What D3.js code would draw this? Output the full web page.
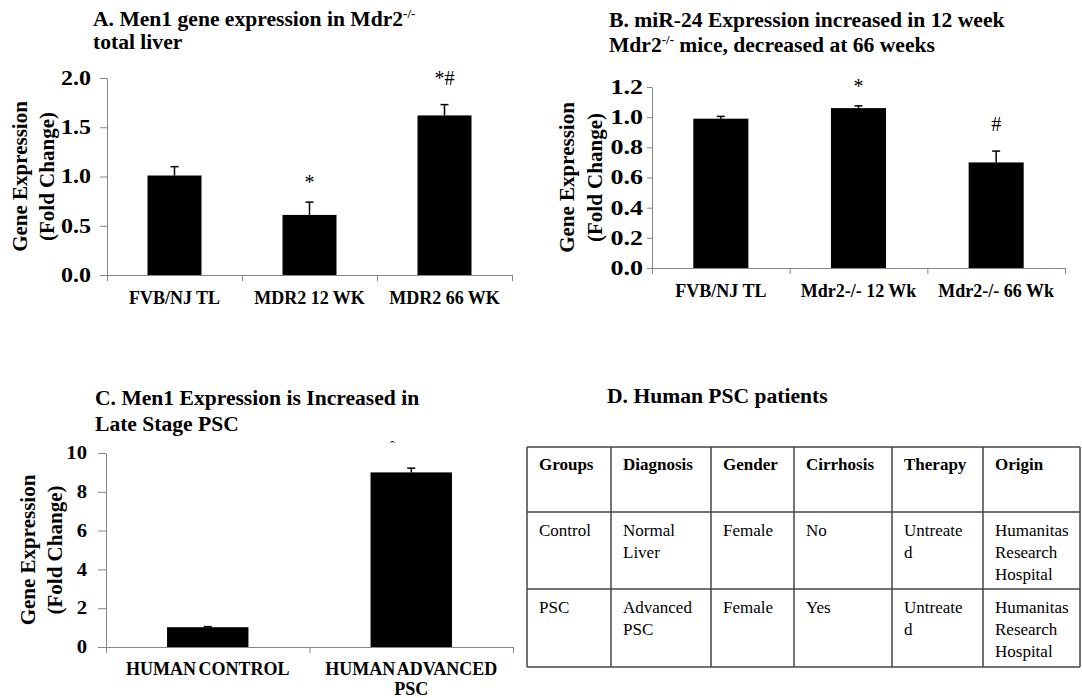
<!DOCTYPE html>
<html lang="en">
<head>
  <meta charset="UTF-8">
  <title>Men1 / miR-24 expression in Mdr2-/- mice and human PSC</title>
  <script src="https://d3js.org/d3.v7.min.js"></script>
  <style>
    body { margin: 0; padding: 0; background: #fff; }
    svg { display: block; }
    text { font-family: 'Liberation Serif', 'Times New Roman', serif; fill: #000; }
  </style>
</head>
<body>
  <div id="chart"></div>
  <script>
    const width = 1082, height = 698;
    const axisGrey = "#868686";

    // A. Men1 gene expression in Mdr2-/- total liver
    const catsA = [["FVB/NJ TL"], ["MDR2 12 WK"], ["MDR2 66 WK"]];
    const valsA = [1.01, 0.61, 1.62];
    const errsA = [0.09, 0.13, 0.11];
    const notesA = ["", "*", "*#"];
    const ticksA = [0, 0.5, 1.0, 1.5, 2.0];

    // B. miR-24 expression
    const catsB = [["FVB/NJ TL"], ["Mdr2-/- 12 Wk"], ["Mdr2-/- 66 Wk"]];
    const valsB = [0.99, 1.06, 0.70];
    const errsB = [0.015, 0.015, 0.075];
    const notesB = ["", "*", "#"];
    const ticksB = [0, 0.2, 0.4, 0.6, 0.8, 1.0, 1.2];

    // C. Men1 expression in human PSC
    const catsC = [["HUMAN CONTROL"], ["HUMAN ADVANCED", "PSC"]];
    const valsC = [1.02, 9.0];
    const errsC = [0.03, 0.22];
    const notesC = ["", "ˆ"];
    const ticksC = [0, 2, 4, 6, 8, 10];

    // D. Human PSC patients table
    const tableHead = ["Groups", "Diagnosis", "Gender", "Cirrhosis", "Therapy", "Origin"];
    const tableRows = [
      [["Control"], ["Normal", "Liver"], ["Female"], ["No"], ["Untreate", "d"], ["Humanitas", "Research", "Hospital"]],
      [["PSC"], ["Advanced", "PSC"], ["Female"], ["Yes"], ["Untreate", "d"], ["Humanitas", "Research", "Hospital"]]
    ];

    const yTitle = ["Gene Expression", "(Fold Change)"];

    const svg = d3.select("#chart").append("svg")
      .attr("width", width)
      .attr("height", height);
    svg.append("rect").attr("width", width).attr("height", height).attr("fill", "#fff");

    // text squeezed/stretched horizontally like the source image
    function stext(parent, x, y, size, sx) {
      return parent.append("text")
        .attr("transform", `translate(${x},${y}) scale(${sx},1)`)
        .attr("font-size", size);
    }

    function title(x, ys, lines) {
      lines.forEach((segs, i) => {
        const t = stext(svg, x, ys[i], 20, 1.08).attr("font-weight", "bold");
        segs.forEach(s => {
          if (s.sup) {
            t.append("tspan").attr("font-size", 12).attr("dy", -8).text(s.t);
          } else {
            t.append("tspan").attr("dy", s.after ? 8 : 0).text(s.t);
          }
        });
      });
    }

    function barPanel(cfg) {
      const n = cfg.cats.length;
      const x = d3.scaleBand()
        .domain(d3.range(n))
        .range([cfg.x0, cfg.x1])
        .paddingInner(0.6)
        .paddingOuter(0.3);
      const xb = d3.scaleLinear().domain([0, n]).range([cfg.x0, cfg.x1]);
      const y = d3.scaleLinear().domain([0, cfg.max]).range([cfg.yBot, cfg.yTop]);

      // y axis
      const ya = svg.append("g")
        .attr("transform", `translate(${cfg.x0},0)`)
        .call(d3.axisLeft(y).tickValues(cfg.ticks).tickFormat(d3.format(cfg.fmt))
          .tickSize(cfg.tickLen).tickSizeOuter(0));
      ya.select(".domain").attr("stroke", axisGrey);
      ya.selectAll(".tick line").attr("stroke", axisGrey);
      ya.selectAll(".tick text")
        .attr("font-family", "'Liberation Serif', serif")
        .attr("font-weight", "bold")
        .attr("font-size", cfg.tickFont)
        .attr("fill", "#000")
        .attr("x", -(cfg.tickLen + cfg.tickPad) / cfg.tickSx)
        .attr("transform", `scale(${cfg.tickSx},1)`);

      // x axis with ticks at category boundaries
      const xa = svg.append("g")
        .attr("transform", `translate(0,${cfg.yBot})`)
        .call(d3.axisBottom(xb).tickValues(d3.range(n + 1)).tickFormat("")
          .tickSize(6).tickSizeOuter(0));
      xa.select(".domain").attr("stroke", axisGrey);
      xa.selectAll(".tick line").attr("stroke", axisGrey);

      // bars
      svg.append("g").selectAll("rect")
        .data(cfg.vals)
        .join("rect")
        .attr("x", (d, i) => x(i))
        .attr("y", d => y(d))
        .attr("width", x.bandwidth())
        .attr("height", d => cfg.yBot - y(d))
        .attr("fill", "#000");

      // upper error bars
      const eb = svg.append("g").attr("stroke", "#000").attr("stroke-width", 1.5);
      cfg.vals.forEach((v, i) => {
        const cx = x(i) + x.bandwidth() / 2;
        eb.append("line").attr("x1", cx).attr("x2", cx)
          .attr("y1", y(v)).attr("y2", y(v + cfg.errs[i]));
        eb.append("line").attr("x1", cx - 4).attr("x2", cx + 4)
          .attr("y1", y(v + cfg.errs[i])).attr("y2", y(v + cfg.errs[i]));
      });

      // significance marks
      cfg.notes.forEach((s, i) => {
        if (!s) return;
        const cx = x(i) + x.bandwidth() / 2;
        const top = y(cfg.vals[i] + cfg.errs[i]);
        if (s === "ˆ") {
          svg.append("text").attr("x", cx - 19).attr("y", top - 17)
            .attr("font-size", 14).attr("fill", "#888").attr("text-anchor", "middle").text(s);
          return;
        }
        svg.append("text")
          .attr("x", cx)
          .attr("y", top - (s.includes("#") ? 20 : 13))
          .attr("font-size", 20)
          .attr("text-anchor", "middle")
          .text(s);
      });

      // category labels
      cfg.cats.forEach((lines, i) => {
        const cx = x(i) + x.bandwidth() / 2;
        lines.forEach((l, k) => {
          svg.append("text")
            .attr("x", cx)
            .attr("y", cfg.labelY + k * 20)
            .attr("font-size", 18)
            .attr("font-weight", "bold")
            .attr("text-anchor", "middle")
            .attr("word-spacing", cfg.wordSpacing || 0)
            .text(l);
        });
      });

      // rotated y title
      const cy = (cfg.yTop + cfg.yBot) / 2;
      yTitle.forEach((l, k) => {
        svg.append("text")
          .attr("transform", `translate(${cfg.ytX[k]},${cy}) rotate(-90)`)
          .attr("dy", "0.35em")
          .attr("font-size", 21)
          .attr("font-weight", "bold")
          .attr("text-anchor", "middle")
          .text(l);
      });
    }

    // Panel A
    title(93, [26, 49], [
      [{ t: "A. Men1 gene expression in Mdr2" }, { t: "-/-", sup: true }],
      [{ t: "total liver" }]
    ]);
    barPanel({
      cats: catsA, vals: valsA, errs: errsA, notes: notesA, ticks: ticksA,
      x0: 107, x1: 512, yTop: 78, yBot: 275, max: 2.0, fmt: ".1f",
      tickFont: 20, tickSx: 1.2, tickPad: 9, tickLen: 7,
      labelY: 304, ytX: [20, 47]
    });

    // Panel B
    title(609, [27, 52], [
      [{ t: "B. miR-24 Expression increased in 12 week" }],
      [{ t: "Mdr2" }, { t: "-/-", sup: true }, { t: " mice, decreased at 66 weeks", after: true }]
    ]);
    barPanel({
      cats: catsB, vals: valsB, errs: errsB, notes: notesB, ticks: ticksB,
      x0: 652, x1: 1065, yTop: 87, yBot: 268, max: 1.2, fmt: ".1f",
      tickFont: 20, tickSx: 1.3, tickPad: 4, tickLen: 5,
      labelY: 297, ytX: [567, 595]
    });

    // Panel C
    title(95, [405, 431], [
      [{ t: "C. Men1 Expression is Increased in" }],
      [{ t: "Late Stage PSC" }]
    ]);
    barPanel({
      cats: catsC, vals: valsC, errs: errsC, notes: notesC, ticks: ticksC,
      x0: 106, x1: 513, yTop: 453, yBot: 647, max: 10, fmt: "d",
      tickFont: 18, tickSx: 1.15, tickPad: 11, tickLen: 8,
      labelY: 675, ytX: [28, 55], wordSpacing: -2
    });

    // Panel D
    title(607, [403], [[{ t: "D. Human PSC patients" }]]);

    const colX = [527, 611, 711, 794, 892, 983, 1080];
    const rowY = [447, 512, 589, 667];
    const tg = svg.append("g");
    tg.selectAll("line.h").data(rowY).join("line")
      .attr("x1", colX[0]).attr("x2", colX[colX.length - 1])
      .attr("y1", d => d).attr("y2", d => d)
      .attr("stroke", "#444").attr("stroke-width", 1.5);
    tg.selectAll("line.v").data(colX).join("line")
      .attr("x1", d => d).attr("x2", d => d)
      .attr("y1", rowY[0]).attr("y2", rowY[rowY.length - 1])
      .attr("stroke", "#444").attr("stroke-width", 1.5);

    tableHead.forEach((h, c) => {
      tg.append("text")
        .attr("x", colX[c] + 12).attr("y", rowY[0] + 23)
        .attr("font-size", 17).attr("font-weight", "bold")
        .attr("fill", "#111")
        .text(h);
    });
    tableRows.forEach((row, r) => {
      row.forEach((lines, c) => {
        lines.forEach((l, k) => {
          tg.append("text")
            .attr("x", colX[c] + 12).attr("y", rowY[r + 1] + 24 + k * 22)
            .attr("font-size", 17)
            .attr("fill", "#111")
            .text(l);
        });
      });
    });
  </script>
</body>
</html>
